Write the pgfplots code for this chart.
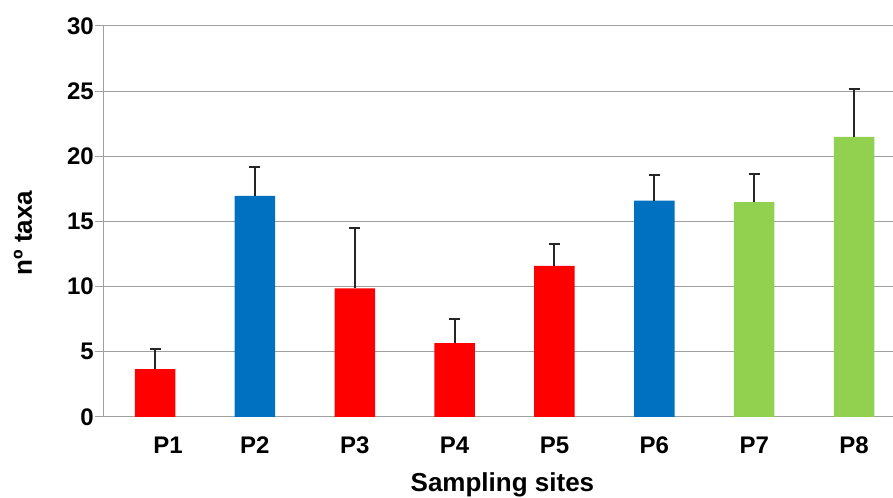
\documentclass[border=0pt]{standalone}
\usepackage{pgfplots}
\pgfplotsset{compat=1.18}
\usepackage{fontspec}
\setmainfont{Liberation Sans}

\definecolor{barred}{HTML}{FF0000}
\definecolor{barblue}{HTML}{0070C0}
\definecolor{bargreen}{HTML}{92D050}
\definecolor{gridgray}{HTML}{A0A0A0}

\begin{document}
\begin{tikzpicture}
\begin{axis}[
  scale only axis,
  width=789pt, height=391pt,
  xmin=-0.511, xmax=7.39,
  ymin=0, ymax=30,
  ytick={0,5,...,30},
  xtick={0,1,...,7},
  xticklabels={\hspace*{26pt}P1,P2,P3,P4,P5,P6,P7,P8},
  axis lines*=left,
  axis line style={gridgray, line width=1pt},
  ymajorgrids,
  grid style={gridgray, line width=1pt},
  tick align=outside,
  major tick length=9pt,
  ytick style={gridgray, line width=1pt},
  xtick style={draw=none},
  /pgf/number format/assume math mode=true,
  tick label style={font=\fontsize{24}{24}\selectfont\bfseries},
  yticklabel style={inner sep=0pt, xshift=-1pt},
  xticklabel style={inner sep=0pt, yshift=-11pt},
  xlabel={Sampling sites},
  ylabel={nº taxa},
  label style={font=\fontsize{26}{26}\selectfont\bfseries},
  xlabel style={at={(axis description cs:0.505,-0.1415)}, anchor=north, inner sep=0pt},
  ylabel style={at={(axis description cs:-0.1027,0.47)}, anchor=center, inner sep=0pt},
  ybar, bar width=40.5pt, bar shift=0pt,
  error bars/y dir=plus, error bars/y explicit,
  error bars/error mark=|,
  error bars/error bar style={black!85, line width=2pt},
  error bars/error mark options={black!85, line width=2pt, mark size=5.5pt},
]
% red sites
\addplot[fill=barred, draw=none] coordinates {
  (0,3.68) +- (0,1.51)
  (2,9.87) +- (0,4.62)
  (3,5.67) +- (0,1.85)
  (4,11.60) +- (0,1.69)
};
% blue sites
\addplot[fill=barblue, draw=none] coordinates {
  (1,16.97) +- (0,2.20)
  (5,16.61) +- (0,1.92)
};
% green sites
\addplot[fill=bargreen, draw=none] coordinates {
  (6,16.49) +- (0,2.12)
  (7,21.50) +- (0,3.63)
};
\end{axis}
\pgfresetboundingbox
\useasboundingbox ([shift={(-104pt,-81pt)}]current axis.south west) rectangle ([shift={(0pt,26pt)}]current axis.north east);
\end{tikzpicture}
\end{document}
